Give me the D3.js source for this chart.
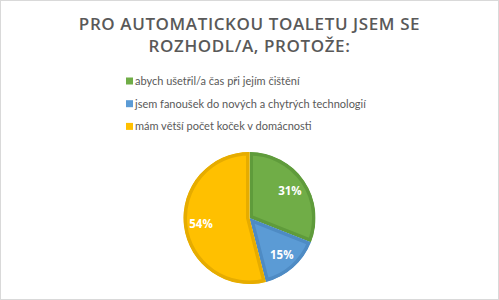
<!DOCTYPE html>
<html>
<head>
<meta charset="utf-8">
<script src="https://cdn.jsdelivr.net/npm/d3@7"></script>
<style>
  body { margin: 0; background: #fff; }
  svg { display: block; }
</style>
</head>
<body>
<svg width="499" height="300"></svg>
<script>
const titleLines = ['PRO AUTOMATICKOU TOALETU JSEM SE', 'ROZHODL/A, PROTOŽE:'];
const categories = [
  'abych ušetřil/a čas při jejím čištění',
  'jsem fanoušek do nových a chytrých technologií',
  'mám větší počet koček v domácnosti'
];
const values = [31, 15, 54];
const fills = ['#70AD47', '#5B9BD5', '#FFC000'];
const edges = ['#5F9B3B', '#4E8BC4', '#E6AC00'];

const svg = d3.select('svg');
const W = 499, H = 300;

svg.append('rect')
  .attr('x', 0.5).attr('y', 0.5)
  .attr('width', W - 1).attr('height', H - 1)
  .attr('fill', '#fff')
  .attr('stroke', '#D9D9D9');

// title
svg.append('text')
  .attr('x', W / 2)
  .attr('text-anchor', 'middle')
  .attr('font-family', 'Open Sans')
  .attr('font-weight', 600)
  .attr('font-size', 17)
  .attr('letter-spacing', 0.6)
  .attr('fill', '#595959')
  .selectAll('tspan')
  .data(titleLines)
  .enter()
  .append('tspan')
  .attr('x', W / 2)
  .attr('y', (d, i) => 30 + i * 22)
  .text(d => d);

// legend
const legend = svg.append('g')
  .attr('transform', 'translate(126, 81)');

const rows = legend.selectAll('g')
  .data(categories)
  .enter()
  .append('g')
  .attr('transform', (d, i) => `translate(0, ${i * 22.7})`);

rows.append('rect')
  .attr('x', 0).attr('y', -3.5)
  .attr('width', 7).attr('height', 7)
  .attr('fill', (d, i) => fills[i]);

rows.append('text')
  .attr('x', 9)
  .attr('y', 4)
  .attr('font-family', 'Lato')
  .attr('font-size', 11)
  .attr('fill', '#595959')
  .text(d => d);

// pie
const cx = 249.5, cy = 218, r = 66;
const pie = d3.pie().sort(null).value(d => d);
const arc = d3.arc().innerRadius(0).outerRadius(r);
const labelArc = d3.arc().innerRadius(r * 0.74).outerRadius(r * 0.74);

const chart = svg.append('g')
  .attr('transform', `translate(${cx}, ${cy})`);

const defs = svg.append('defs');
const arcs = pie(values);

arcs.forEach((a, i) => {
  defs.append('clipPath')
    .attr('id', 'clip' + i)
    .append('path')
    .attr('d', arc(a));
});

chart.selectAll('path.slice')
  .data(arcs)
  .enter()
  .append('path')
  .attr('class', 'slice')
  .attr('d', arc)
  .attr('fill', (d, i) => fills[i])
  .attr('stroke', (d, i) => edges[i])
  .attr('stroke-width', 7)
  .attr('stroke-linejoin', 'round')
  .attr('clip-path', (d, i) => `url(#clip${i})`);

chart.selectAll('text.pct')
  .data(arcs)
  .enter()
  .append('text')
  .attr('class', 'pct')
  .attr('transform', d => `translate(${labelArc.centroid(d)})`)
  .attr('text-anchor', 'middle')
  .attr('dy', '0.35em')
  .attr('font-family', 'Open Sans')
  .attr('font-weight', 700)
  .attr('font-size', 11.5)
  .attr('fill', '#fff')
  .text(d => d.data + '%');
</script>
</body>
</html>
